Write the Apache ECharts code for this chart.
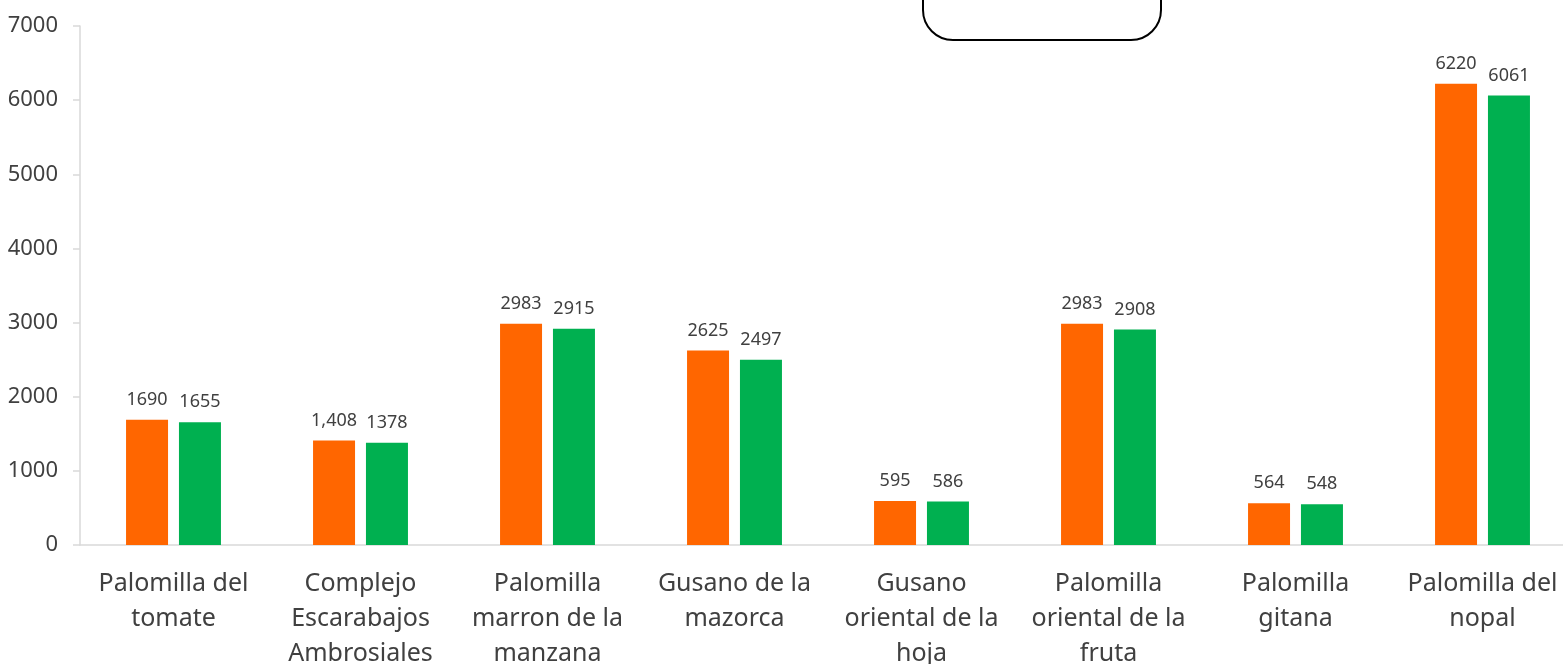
<!DOCTYPE html>
<html>
  <head>
    <meta charset="utf-8">
    <title>Plagas</title>
    <script src="https://cdn.jsdelivr.net/npm/echarts@6/dist/echarts.min.js"></script>
    <style>
      html, body { margin: 0; padding: 0; background: #fff; }
      #container { width: 1563px; height: 664px; }
    </style>
  </head>
  <body>
    <div id="container"></div>
    <script>
        // categorias (con saltos de linea como en la grafica original)
        const categories = [
            'Palomilla del\ntomate',
            'Complejo\nEscarabajos\nAmbrosiales',
            'Palomilla\nmarron de la\nmanzana',
            'Gusano de la\nmazorca',
            'Gusano\noriental de la\nhoja',
            'Palomilla\noriental de la\nfruta',
            'Palomilla\ngitana',
            'Palomilla del\nnopal'
        ];
        const serieNaranja = [1690, 1408, 2983, 2625, 595, 2983, 564, 6220];
        const serieVerde = [1655, 1378, 2915, 2497, 586, 2908, 548, 6061];
        // etiquetas tal como aparecen (una lleva separador de miles)
        const etiquetasNaranja = ['1690', '1,408', '2983', '2625', '595', '2983', '564', '6220'];
        const etiquetasVerde = ['1655', '1378', '2915', '2497', '586', '2908', '548', '6061'];

        const font = 'Noto Sans';
        const textColor = '#404040';

        const chart = echarts.init(document.getElementById('container'));
        chart.setOption({
            animation: false,
            grid: { left: 80, right: -13, top: 26, bottom: 119, outerBoundsMode: 'none' },
            xAxis: {
                type: 'category',
                data: categories,
                axisLine: { lineStyle: { color: '#d9d9d9', width: 1.5 } },
                axisTick: { show: false },
                axisLabel: {
                    interval: 0,
                    margin: 21,
                    color: textColor,
                    fontFamily: font,
                    fontSize: 25,
                    lineHeight: 35
                }
            },
            yAxis: {
                type: 'value',
                min: 0,
                max: 7000,
                interval: 1000,
                splitLine: { show: false },
                axisLine: { show: true, lineStyle: { color: '#d9d9d9', width: 1.5 } },
                axisTick: { show: true, length: 7, lineStyle: { color: '#d9d9d9', width: 1.5 } },
                axisLabel: {
                    margin: 22,
                    color: textColor,
                    fontFamily: font,
                    fontSize: 22,
                    formatter: v => String(v)
                }
            },
            series: [
                {
                    type: 'bar',
                    data: serieNaranja,
                    barWidth: 42,
                    barGap: '26%',
                    itemStyle: { color: '#ff6600' },
                    label: {
                        show: true,
                        position: 'top',
                        distance: 11,
                        color: textColor,
                        fontFamily: font,
                        fontSize: 18,
                        formatter: p => etiquetasNaranja[p.dataIndex]
                    }
                },
                {
                    type: 'bar',
                    data: serieVerde,
                    barWidth: 42,
                    barGap: '26%',
                    itemStyle: { color: '#00b050' },
                    label: {
                        show: true,
                        position: 'top',
                        distance: 11,
                        color: textColor,
                        fontFamily: font,
                        fontSize: 18,
                        formatter: p => etiquetasVerde[p.dataIndex]
                    }
                }
            ],
            graphic: [
                {
                    type: 'rect',
                    left: 922,
                    top: -40,
                    shape: { width: 238, height: 79, r: 30 },
                    style: { fill: '#fff', stroke: '#000', lineWidth: 2 }
                }
            ]
        });
    </script>
  </body>
</html>
